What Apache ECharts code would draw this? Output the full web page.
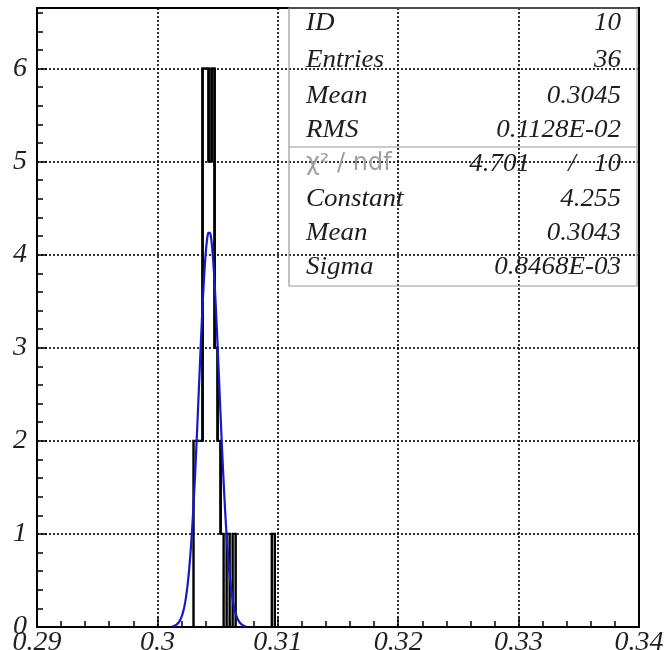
<!DOCTYPE html>
<html><head><meta charset="utf-8">
<script src="https://cdn.jsdelivr.net/npm/echarts@6/dist/echarts.min.js"></script>
<style>html,body{margin:0;padding:0;background:#fff}#c{width:665px;height:650px}</style>
</head><body><div id="c"></div>
<script>
// ---- data ----
const binWidth = 0.00025;
const binLow = [0.30300, 0.30325, 0.30350, 0.30375, 0.30400, 0.30425, 0.30450, 0.30475, 0.30500, 0.30525, 0.30575, 0.30625, 0.30950];
const binCounts = [2, 2, 2, 6, 6, 5, 6, 3, 2, 1, 1, 1, 1];
const fitConstant = 4.255;
const fitMean = 0.3043;
const fitSigma = 0.8468e-3;
const statLabels = ['ID', 'Entries', 'Mean', 'RMS'];
const statValues = ['10', '36', '0.3045', '0.1128E-02'];
const fitLabels = ['Constant', 'Mean', 'Sigma'];
const fitValues = ['4.255', '0.3043', '0.8468E-03'];
const chi2Label = 'χ² / ndf';
const chi2Value = '4.701';
const ndfValue = '10';
const xTickLabels = ['0.29', '0.3', '0.31', '0.32', '0.33', '0.34'];
const yTickLabels = ['0', '1', '2', '3', '4', '5', '6'];

// fit curve from the stated fit parameters
const fitCurve = [];
for (let i = -72; i <= 72; i++) {
  const x = fitMean + i * fitSigma / 20;
  const z = (x - fitMean) / fitSigma;
  fitCurve.push([x, fitConstant * Math.exp(-0.5 * z * z)]);
}

// histogram outline items: [lo, hi, count, prevCount, nextCount]
const near = (a, b) => Math.abs(a - b) < 1e-9;
const histItems = binLow.map((lo, i) => {
  const hi = lo + binWidth;
  let prev = 0, next = 0;
  binLow.forEach((l2, j) => {
    if (near(l2 + binWidth, lo)) prev = binCounts[j];
    if (near(l2, hi)) next = binCounts[j];
  });
  return [lo, hi, binCounts[i], prev, next];
});

const serif = '"Liberation Serif", "DejaVu Serif", serif';
const chart = echarts.init(document.getElementById('c'), null, {renderer: 'canvas'});

const G = {left: 37, right: 26, top: 8, bottom: 23};
const boxL = 289, boxR = 637, boxT = 8, boxB = 286, sepY = 147;
const rowY = [23, 60, 96, 130, 164, 199, 233, 267];
const txtL = 306, txtR = 621;
const graphics = [
  {type: 'rect', shape: {x: boxL, y: boxT, width: boxR - boxL, height: boxB - boxT}, style: {fill: 'none', stroke: '#9a9a9a', lineWidth: 1.2}, z: 10},
  {type: 'line', shape: {x1: boxL, y1: sepY, x2: boxR, y2: sepY}, style: {stroke: '#9a9a9a', lineWidth: 1.2}, z: 10}
];
const tStyle = (text, x, y, align, color, font, sx) => ({type: 'text', x: x, y: y, z: 11, scaleX: sx || 1.08,
  style: {text: text, font: font || ('italic 25px ' + serif), fill: color || '#1e1e1e', align: align, verticalAlign: 'middle'}});
statLabels.forEach((l, i) => {
  graphics.push(tStyle(l, txtL, rowY[i], 'left'));
  graphics.push(tStyle(statValues[i], txtR, rowY[i], 'right'));
});
graphics.push(tStyle(chi2Label, txtL, rowY[4], 'left', '#a0a0a0', '24px "DejaVu Sans", sans-serif', 1));
graphics.push(tStyle(chi2Value, 530, rowY[4], 'right'));
graphics.push(tStyle('/', 572, rowY[4], 'center'));
graphics.push(tStyle(ndfValue, txtR, rowY[4], 'right'));
fitLabels.forEach((l, i) => {
  graphics.push(tStyle(l, txtL, rowY[5 + i], 'left'));
  graphics.push(tStyle(fitValues[i], txtR, rowY[5 + i], 'right'));
});

chart.setOption({
  animation: false,
  backgroundColor: '#fff',
  grid: {left: G.left, right: G.right, top: G.top, bottom: G.bottom, show: true, borderColor: '#000', borderWidth: 2,
    backgroundColor: 'transparent', containLabel: false, outerBoundsMode: 'none'},
  xAxis: {
    type: 'value', min: 0.29, max: 0.34, interval: 0.01,
    axisLine: {show: true, lineStyle: {color: '#000', width: 2}},
    axisTick: {show: true, inside: true, length: 10, lineStyle: {color: '#000', width: 1.5}},
    minorTick: {show: true, splitNumber: 5, length: 6, lineStyle: {color: '#000', width: 1.5}},
    splitLine: {show: true, lineStyle: {color: '#000', width: 1.6, type: [2, 2]}},
    axisLabel: {margin: 2, color: '#1e1e1e', fontFamily: serif, fontStyle: 'italic', fontSize: 28, verticalAlign: 'top',
      formatter: v => { const i = Math.round((v - 0.29) / 0.01); return xTickLabels[i] !== undefined ? xTickLabels[i] : ''; },
      showMinLabel: true, showMaxLabel: true}
  },
  yAxis: {
    type: 'value', min: 0, max: 6.65, interval: 1,
    axisLine: {show: true, lineStyle: {color: '#000', width: 2}},
    axisTick: {show: true, inside: true, length: 10, lineStyle: {color: '#000', width: 1.5}},
    minorTick: {show: true, splitNumber: 5, length: 6, lineStyle: {color: '#000', width: 1.5}},
    splitLine: {show: true, lineStyle: {color: '#000', width: 1.6, type: [2, 2]}},
    axisLabel: {margin: 10, color: '#1e1e1e', fontFamily: serif, fontStyle: 'italic', fontSize: 28,
      formatter: v => { const i = Math.round(v); return Math.abs(v - i) < 1e-6 && yTickLabels[i] !== undefined ? yTickLabels[i] : ''; },
      showMaxLabel: false}
  },
  series: [
    {
      type: 'custom', z: 3, clip: true,
      data: histItems,
      encode: {x: [0, 1], y: 2},
      renderItem: (params, api) => {
        const lo = api.value(0), hi = api.value(1), c = api.value(2), pv = api.value(3), nx = api.value(4);
        const pts = [api.coord([lo, pv]), api.coord([lo, c]), api.coord([hi, c]), api.coord([hi, nx])];
        return {type: 'polyline', shape: {points: pts},
          style: {fill: 'none', stroke: '#000', lineWidth: 2.4}};
      }
    },
    {
      type: 'line', z: 4, data: fitCurve, showSymbol: false, symbol: 'none',
      lineStyle: {color: '#1818cc', width: 2.2}
    }
  ],
  graphic: graphics
});
</script></body></html>
